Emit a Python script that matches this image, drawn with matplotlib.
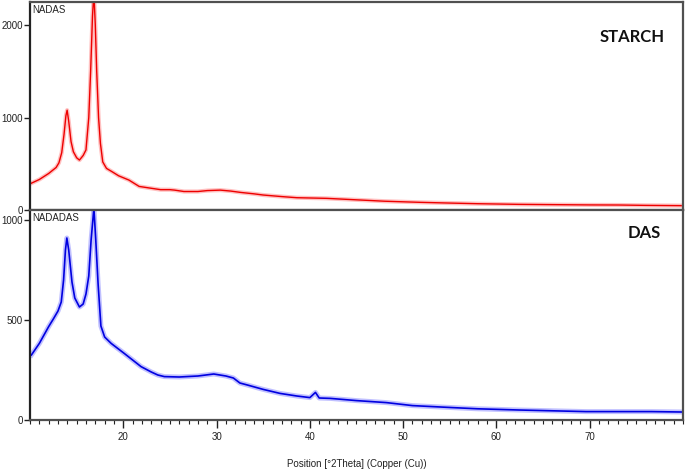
import matplotlib
matplotlib.use("Agg")
import matplotlib.pyplot as plt
from matplotlib.ticker import MultipleLocator

# STARCH (top panel) pattern
starch_x = [10.15, 11.0, 12.0, 12.8, 13.1, 13.4, 13.65, 13.85, 13.98, 14.15, 14.4, 14.65,
            15.0, 15.3, 15.7, 16.0, 16.3, 16.5, 16.7, 16.85, 17.0, 17.15, 17.35,
            17.55, 17.8, 18.2, 18.8, 19.5, 20.6, 21.7, 23.0, 24.0, 25.0, 25.5, 26.5,
            28.0, 29.0, 30.4, 31.5, 32.6, 34.0, 35.0, 37.0, 38.6, 40.0, 41.8,
            45.0, 48.0, 51.8, 55.0, 58.0, 62.4, 66.0, 70.0, 73.1, 76.0, 79.8]
starch_y = [290, 330, 395, 460, 510, 620, 820, 1020, 1080, 960, 740, 630,
            565, 540, 590, 650, 1000, 1500, 2100, 2350, 2000, 1500, 1000,
            720, 520, 450, 414, 370, 324, 255, 235, 220, 220, 215, 200,
            200, 210, 215, 205, 190, 175, 162, 145, 133, 130, 126,
            110, 95, 83, 75, 68, 61, 58, 55, 54, 50, 47]

# DAS (bottom panel) pattern
das_x = [10.15, 11.0, 12.0, 12.5, 13.0, 13.35, 13.6, 13.8, 13.95, 14.15, 14.5, 14.8,
         15.3, 15.7, 16.0, 16.3, 16.55, 16.85, 17.05, 17.3, 17.6, 18.0, 18.7,
         20.1, 21.0, 21.9, 23.0, 23.7, 24.4, 26.0, 28.0, 29.7, 31.0, 31.8,
         32.5, 33.3, 35.0, 36.8, 38.6, 40.0, 40.6, 41.0, 42.2, 45.0, 48.2,
         51.0, 55.3, 58.0, 62.4, 66.0, 69.6, 73.0, 76.6, 79.8]
das_y = [325, 383, 467, 505, 545, 590, 700, 850, 910, 850, 690, 610,
         565, 580, 630, 720, 900, 1060, 900, 680, 470, 415, 383,
         333, 300, 267, 240, 225, 217, 215, 220, 230, 220, 210,
         185, 175, 153, 133, 120, 112, 138, 110, 108, 97, 87,
         72, 62, 56, 50, 46, 42, 42, 42, 40]

top_label = "NADAS"
bottom_label = "NADADAS"
top_title = "STARCH"
bottom_title = "DAS"
xlabel = "Position [°2Theta] (Copper (Cu))"
top_yticks = [0, 1000, 2000]
bottom_yticks = [0, 500, 1000]
xticks = [20, 30, 40, 50, 60, 70]

plt.rcParams['font.family'] = ['Liberation Sans', 'DejaVu Sans']

fig = plt.figure(figsize=(6.85, 4.72), dpi=100)
L, R = 30 / 685, 683 / 685
y_bot = 1 - 420 / 472
y_mid = 1 - 210 / 472
y_top = 1 - 2 / 472
ax1 = fig.add_axes([L, y_mid, R - L, y_top - y_mid])
ax2 = fig.add_axes([L, y_bot, R - L, y_mid - y_bot])

spine_col = '#505050'
for ax in (ax1, ax2):
    ax.set_xlim(10, 80)
    for s in ax.spines.values():
        s.set_color(spine_col)
        s.set_linewidth(1.6)
    ax.spines['left'].set_color('#222222')
    ax.tick_params(axis='y', direction='out', length=4, width=1, labelsize=7,
                   colors='#222222', pad=1)

ax1.plot(starch_x, starch_y, color='#ff3030', lw=3.0, alpha=0.3, solid_joinstyle='round')
ax1.plot(starch_x, starch_y, color='#ee0000', lw=1.0)
ax1.set_ylim(0, 2250)
ax1.set_yticks(top_yticks)
ax1.set_xticks([])
ax1.text(0.004, 0.985, top_label, transform=ax1.transAxes, ha='left', va='top',
         fontsize=7, color='#222222')
ax1.text(0.922, 0.832, top_title, transform=ax1.transAxes, ha='center', va='center',
         fontsize=12, fontweight='bold', family=['Lato', 'DejaVu Sans'], color='#111111')

ax2.plot(das_x, das_y, color='#3030ff', lw=3.6, alpha=0.3, solid_joinstyle='round')
ax2.plot(das_x, das_y, color='#0000e0', lw=1.2)
ax2.set_ylim(0, 1050)
ax2.set_yticks(bottom_yticks)
ax2.set_xticks(xticks)
ax2.xaxis.set_minor_locator(MultipleLocator(1))
ax2.tick_params(axis='x', which='major', direction='out', length=6, width=1,
                labelsize=7, colors='#222222', pad=3)
ax2.tick_params(axis='x', which='minor', direction='out', length=3, width=0.8,
                colors='#222222')
ax2.text(0.004, 0.985, bottom_label, transform=ax2.transAxes, ha='left', va='top',
         fontsize=7, color='#222222')
ax2.text(0.94, 0.89, bottom_title, transform=ax2.transAxes, ha='center', va='center',
         fontsize=12, fontweight='bold', family=['Lato', 'DejaVu Sans'], color='#111111')
ax2.set_xlabel(xlabel, fontsize=7, color='#222222', labelpad=12)

fig.savefig("out.png", dpi=100)
